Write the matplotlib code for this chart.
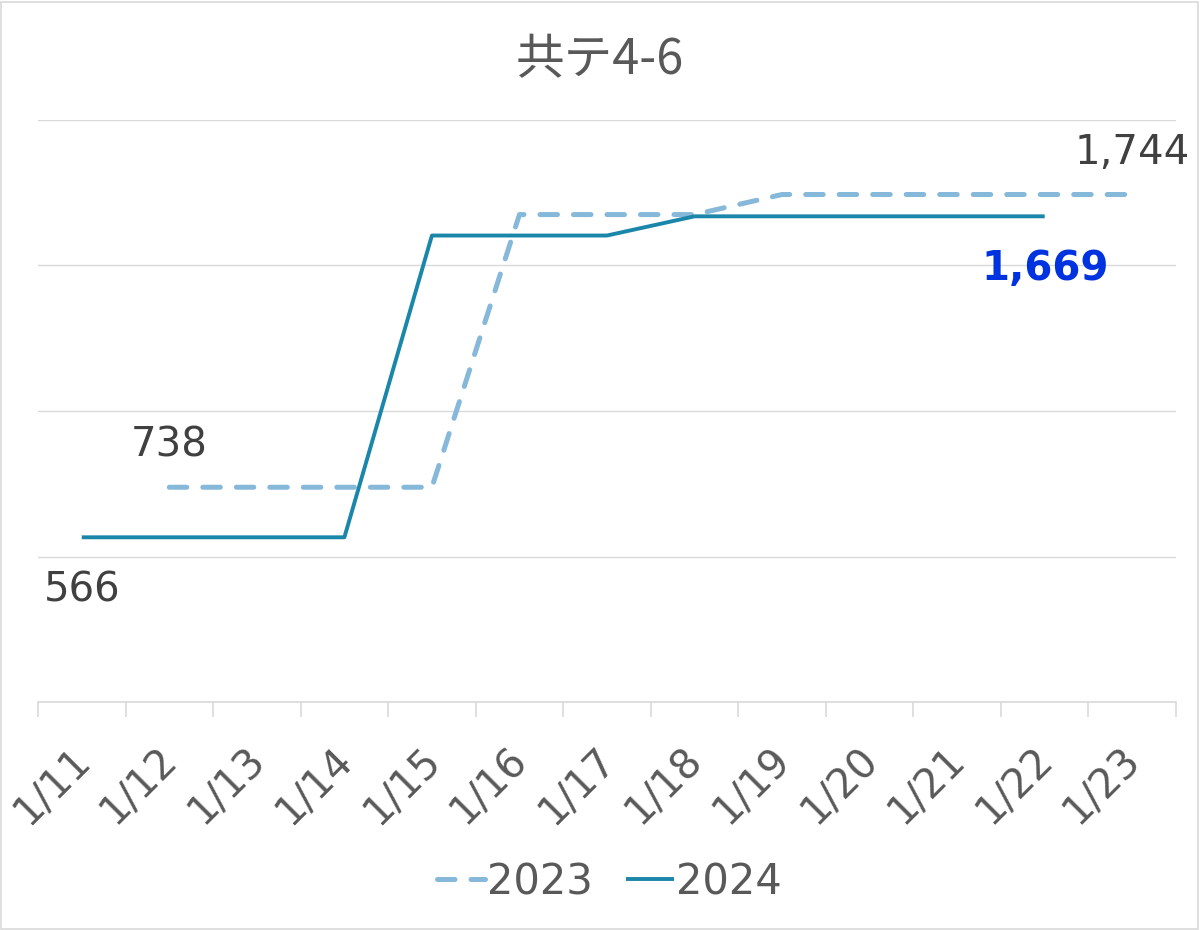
import matplotlib
matplotlib.use('Agg')
import matplotlib.pyplot as plt
from matplotlib.patches import Rectangle
from matplotlib.transforms import ScaledTranslation

plt.rcParams['font.family'] = ['DejaVu Sans', 'Noto Sans CJK JP']

dates = ['1/11', '1/12', '1/13', '1/14', '1/15', '1/16', '1/17',
         '1/18', '1/19', '1/20', '1/21', '1/22', '1/23']
# None = no data for that day
v2023 = [None, 738, 738, 738, 738, 1675, 1675, 1675, 1744, 1744, 1744, 1744, 1744]
v2024 = [566, 566, 566, 566, 1603, 1603, 1603, 1669, 1669, 1669, 1669, 1669, None]

c2023 = '#86B8DA'
c2024 = '#1A86AA'

fig = plt.figure(figsize=(12, 9.3), dpi=100)
ax = fig.add_axes([38 / 1200, 1 - 702 / 930, (1176 - 38) / 1200, (702 - 120) / 930])

x23 = [i for i, v in enumerate(v2023) if v is not None]
y23 = [v for v in v2023 if v is not None]
x24 = [i for i, v in enumerate(v2024) if v is not None]
y24 = [v for v in v2024 if v is not None]

ax.plot(x23, y23, color=c2023, lw=3.6, ls=(0, (3.5, 3.2)), dash_capstyle='round',
        label='2023')
ax.plot(x24, y24, color=c2024, lw=2.8, solid_capstyle='butt', label='2024')

ax.set_xlim(-0.5, len(dates) - 0.5)
ax.set_ylim(0, 2000)
ax.set_yticks([0, 500, 1000, 1500, 2000])
ax.yaxis.grid(True, color='#D9D9D9', lw=1)
ax.tick_params(axis='y', left=False, labelleft=False)
for s in ['top', 'right', 'left']:
    ax.spines[s].set_visible(False)
ax.spines['bottom'].set_color('#D9D9D9')
ax.spines['bottom'].set_linewidth(1.2)

ax.set_xticks(range(len(dates)))
ax.set_xticklabels(dates, rotation=45, ha='right', rotation_mode='anchor',
                   fontsize=29, color='#595959')
ax.tick_params(axis='x', length=0, pad=27)
shift = ScaledTranslation(-12 / 100, 0, fig.dpi_scale_trans)
for t in ax.get_xticklabels():
    t.set_transform(t.get_transform() + shift)
ax.set_xticks([i - 0.5 for i in range(len(dates) + 1)], minor=True)
ax.tick_params(axis='x', which='minor', length=11, color='#D9D9D9', width=1.2)

lab = dict(fontsize=29, color='#404040', ha='center', va='center',
           textcoords='offset points')
ax.annotate('{:,}'.format(v2024[0]), (0, v2024[0]), xytext=(0, -38), **lab)
ax.annotate('{:,}'.format(v2023[1]), (1, v2023[1]), xytext=(0, 30), **lab)
ax.annotate('{:,}'.format(v2023[12]), (12, v2023[12]), xytext=(0, 30), **lab)
ax.annotate('{:,}'.format(v2024[11]), (11, v2024[11]), xytext=(0, -38),
            textcoords='offset points', fontsize=29, color='#0033E0',
            fontweight='bold', ha='center', va='center')

fig.text(0.5, 1 - 60 / 930, '共テ4-6', fontsize=35, color='#595959',
         ha='center', va='center', family=['Noto Sans CJK JP', 'DejaVu Sans'])

leg = fig.legend(loc='center', bbox_to_anchor=(0.508, 1 - 882 / 930), ncol=2,
                 frameon=False, fontsize=30, handlelength=1.15, handletextpad=0.05,
                 columnspacing=0.8)
for t in leg.get_texts():
    t.set_color('#595959')

fig.patches.append(Rectangle((0.001, 0.001), 0.997, 0.997, transform=fig.transFigure,
                             fill=False, edgecolor='#D9D9D9', lw=1.2))

fig.savefig('out.png', dpi=100, facecolor='white')
